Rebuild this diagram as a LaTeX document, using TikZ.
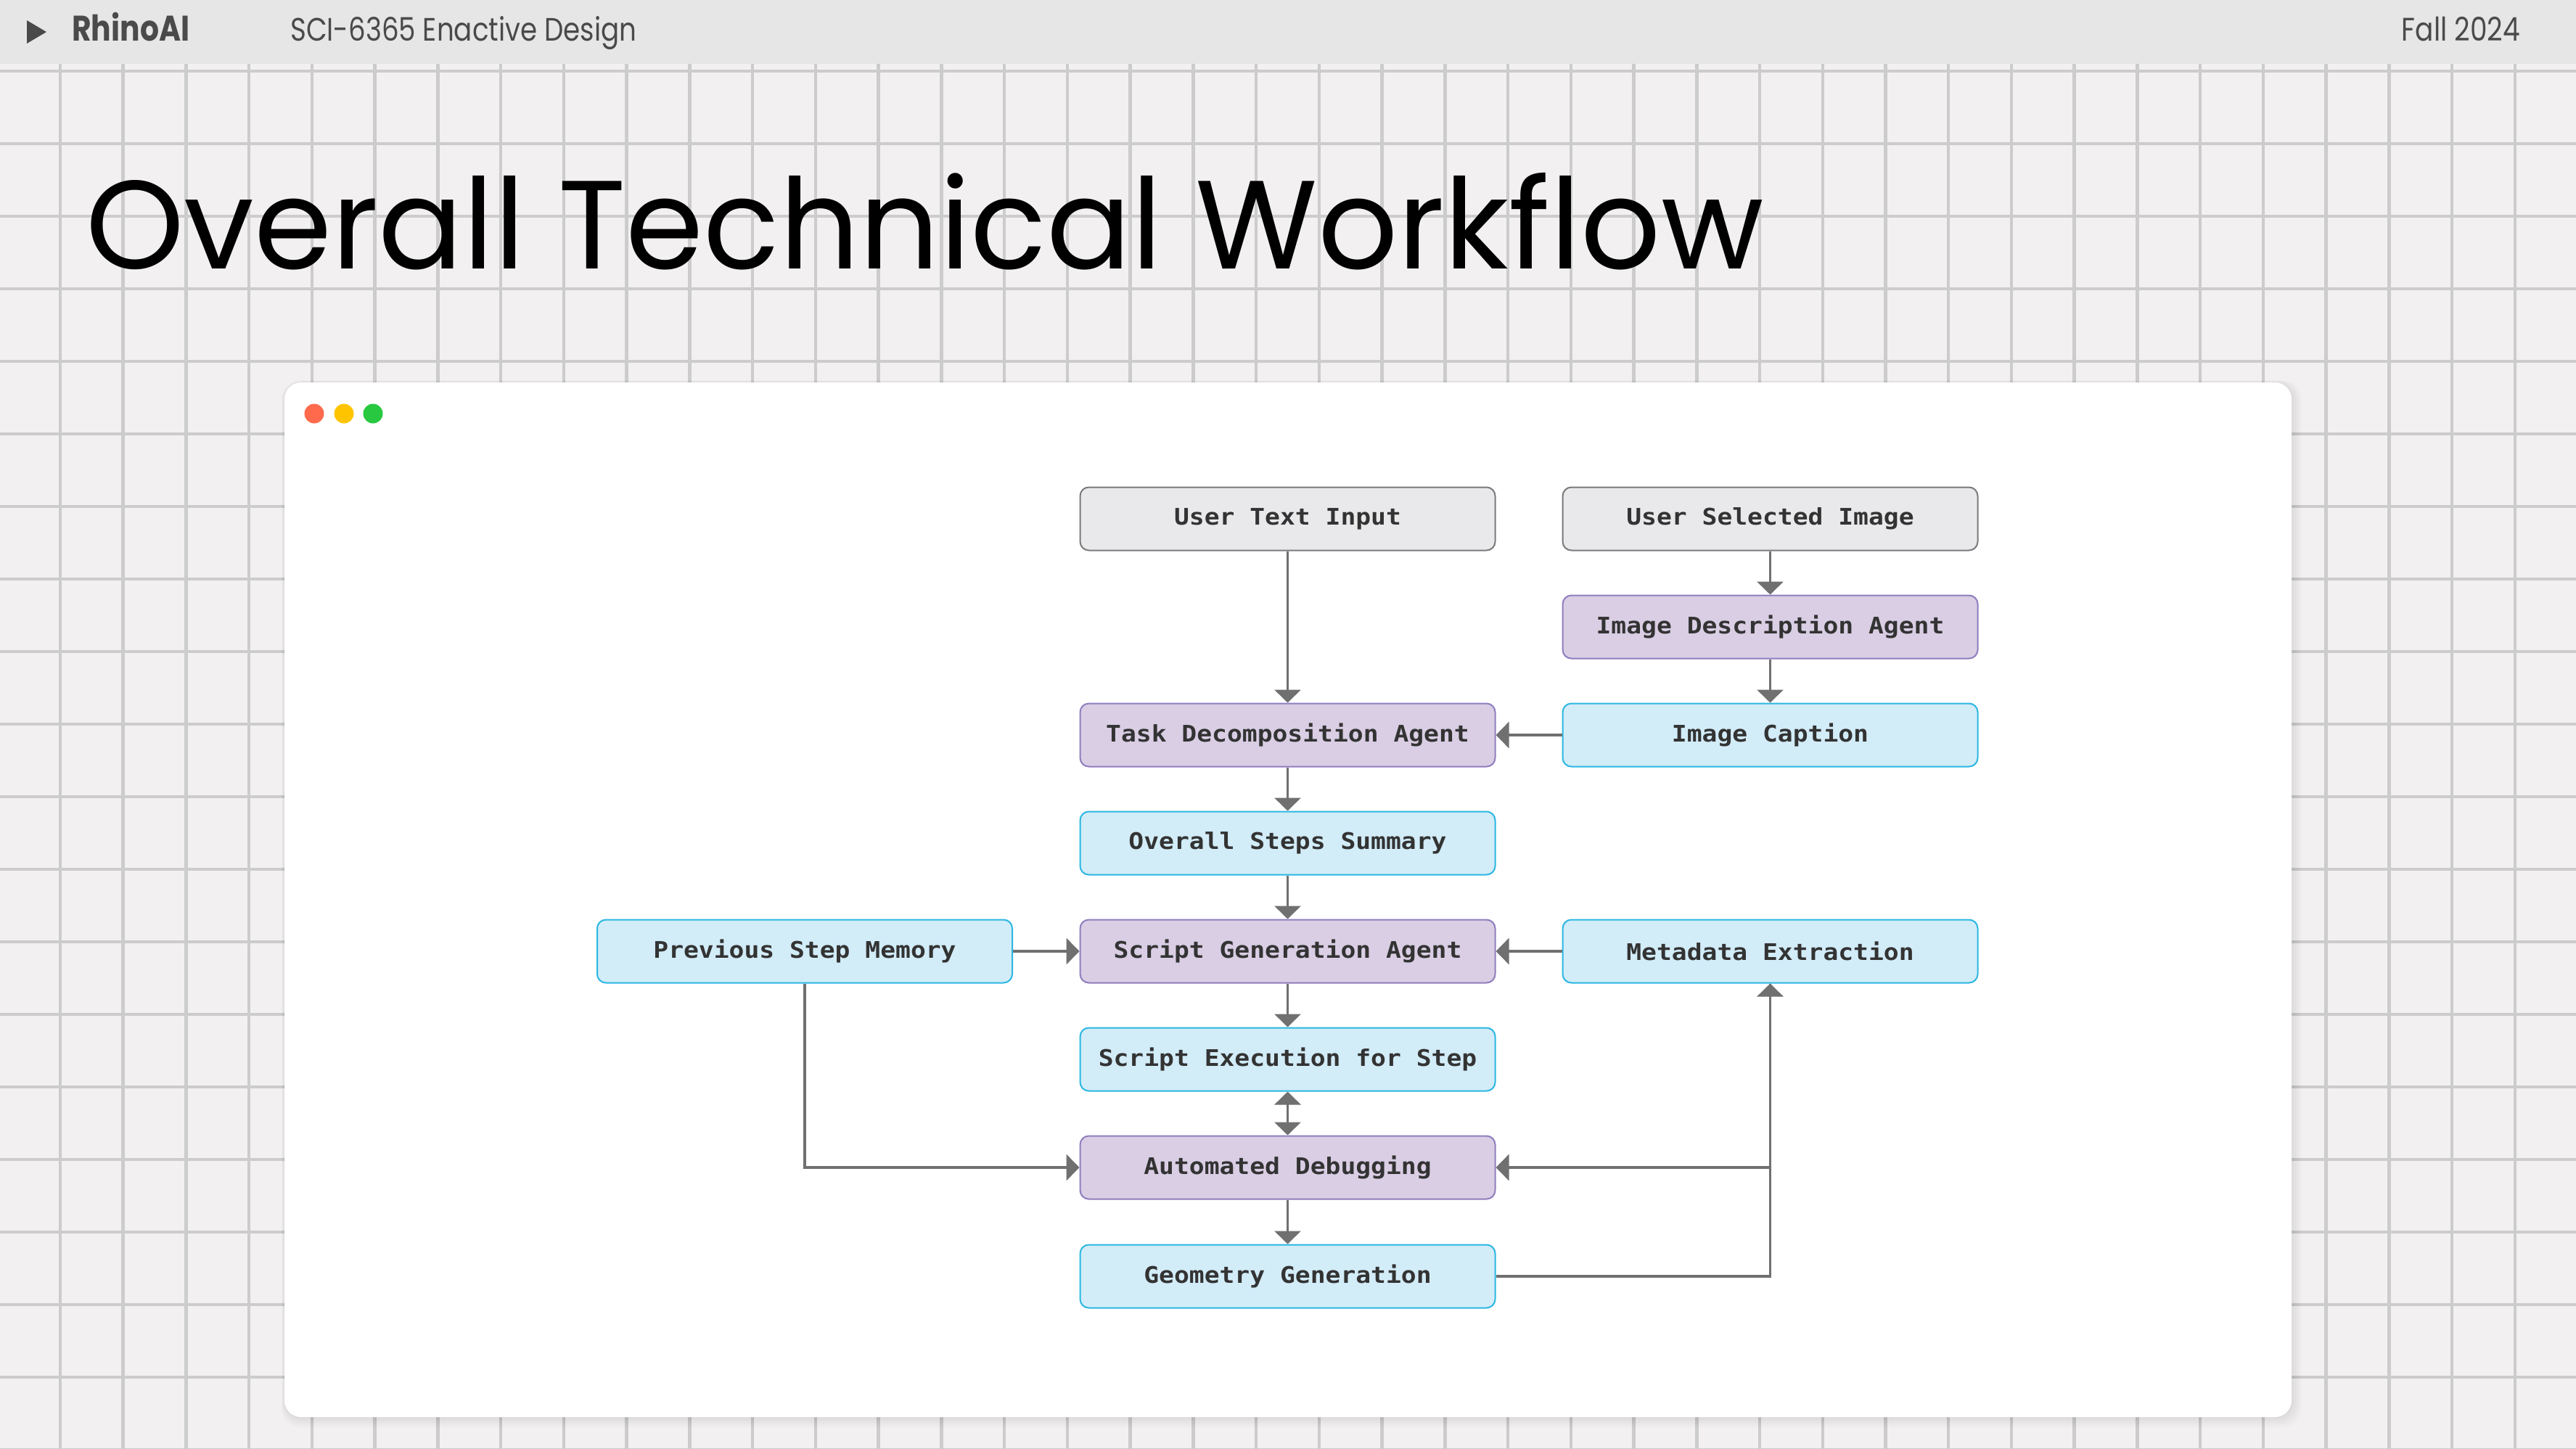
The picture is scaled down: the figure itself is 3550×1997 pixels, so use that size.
\documentclass[tikz,border=0pt]{standalone}
\usepackage{fontspec}
\usepackage{graphicx}
\usetikzlibrary{arrows.meta}
\setmainfont{Poppins}
\newfontfamily\monofont[FakeStretch=1.1]{DejaVu Sans Mono}

\definecolor{bgcol}{HTML}{F2F0F1}
\definecolor{gridcol}{HTML}{CCCCCC}
\definecolor{headcol}{HTML}{E6E6E6}
\definecolor{headtxt}{HTML}{4A4A4A}
\definecolor{txtgray}{HTML}{333333}
\definecolor{arrgray}{HTML}{707070}
\definecolor{gbox}{HTML}{E9E9EB}
\definecolor{gline}{HTML}{7A7A7A}
\definecolor{pbox}{HTML}{D9CEE4}
\definecolor{pline}{HTML}{8E7DBE}
\definecolor{cbox}{HTML}{D2ECF8}
\definecolor{cline}{HTML}{2BB7E2}
\definecolor{dotred}{HTML}{FF6A4D}
\definecolor{dotyellow}{HTML}{FFC400}
\definecolor{dotgreen}{HTML}{28C840}

\newcommand{\boxfont}{\monofont\bfseries\fontsize{31.5}{38}\selectfont}
\newcommand{\fitw}[2]{\resizebox{#1}{!}{\scalebox{1}[1.2]{#2}}}

\tikzset{
  box/.style={draw, rounded corners=12pt, minimum width=572pt, minimum height=87pt,
    line width=2pt, inner sep=0pt, font=\boxfont, text=txtgray},
  inbox/.style={box, fill=gbox, draw=gline},
  agent/.style={box, fill=pbox, draw=pline},
  data/.style={box, fill=cbox, draw=cline},
  flow/.style={draw=arrgray, line width=3.5pt, -{Triangle[length=18pt,width=36pt]}},
}

\begin{document}
\begin{tikzpicture}[x=1pt,y=-1pt]
\useasboundingbox (0,0) rectangle (3550,1997);
\fill[bgcol] (0,0) rectangle (3550,1997);

% grid
\foreach \i in {-1,...,40}{
  \draw[gridcol,line width=4.5pt] (83+86.74*\i,88) -- (83+86.74*\i,1997);
  }
\foreach \j in {0,...,19}{
  \draw[gridcol,line width=4.5pt] (0,98+100*\j) -- (3550,98+100*\j);
  }

% header bar
\fill[headcol] (0,0) rectangle (3550,88);
\fill[headtxt] (37,28) -- (64,44) -- (37,60) -- cycle;
\node[anchor=base west,inner sep=0pt,text=headtxt] (brand) at (99,56) {\fitw{162pt}{\bfseries RhinoAI}};
\node[anchor=base west,inner sep=0pt,text=headtxt] (course) at (400,56) {\fitw{477pt}{SCI-6365 Enactive Design}};
\node[anchor=base east,inner sep=0pt,text=headtxt] (term) at (3473,56) {\fitw{163pt}{Fall 2024}};

% title
\node[anchor=base west,inner sep=0pt] (title) at (118,370) {\resizebox{2312pt}{132pt}{Overall Technical Workflow}};

% window
\foreach \s in {2,4,...,14}{
  \fill[black,opacity=0.012,rounded corners=26pt] (392-\s*0.3,527-\s*0.2) rectangle (3158+\s,1953+\s);
  }
\fill[white,rounded corners=23pt] (392,527) rectangle (3158,1953);
\fill[dotred] (433,570) circle (13.5);
\fill[dotyellow] (474,570) circle (13.5);
\fill[dotgreen] (514,570) circle (13.5);

% nodes
\node[inbox] (uti) at (1774.5,715) {User Text Input};
\node[inbox] (usi) at (2439.5,715) {User Selected Image};
\node[agent] (ida) at (2439.5,864) {Image Description Agent};
\node[data] (icap) at (2439.5,1013) {Image Caption};
\node[agent] (tda) at (1774.5,1013) {Task Decomposition Agent};
\node[data] (oss) at (1774.5,1162) {Overall Steps Summary};
\node[agent] (sga) at (1774.5,1311) {Script Generation Agent};
\node[data] (psm) at (1109,1311) {Previous Step Memory};
\node[data] (meta) at (2439.5,1311) {Metadata Extraction};
\node[data] (sef) at (1774.5,1460) {Script Execution for Step};
\node[agent] (adb) at (1774.5,1609) {Automated Debugging};
\node[data] (geo) at (1774.5,1759) {Geometry Generation};

% connectors
\draw[flow] (uti) -- (tda);
\draw[flow] (usi) -- (ida);
\draw[flow] (ida) -- (icap);
\draw[flow] (icap) -- (tda);
\draw[flow] (tda) -- (oss);
\draw[flow] (oss) -- (sga);
\draw[flow] (psm) -- (sga);
\draw[flow] (meta) -- (sga);
\draw[flow] (sga) -- (sef);
\draw[flow,{Triangle[length=18pt,width=36pt]}-{Triangle[length=18pt,width=36pt]}] (sef) -- (adb);
\draw[flow] (adb) -- (geo);
\draw[flow] (psm.south) |- (adb.west);
\draw[flow] (geo.east) -| (meta.south);
\draw[flow] (meta.south) |- (adb.east);
\end{tikzpicture}
\end{document}
